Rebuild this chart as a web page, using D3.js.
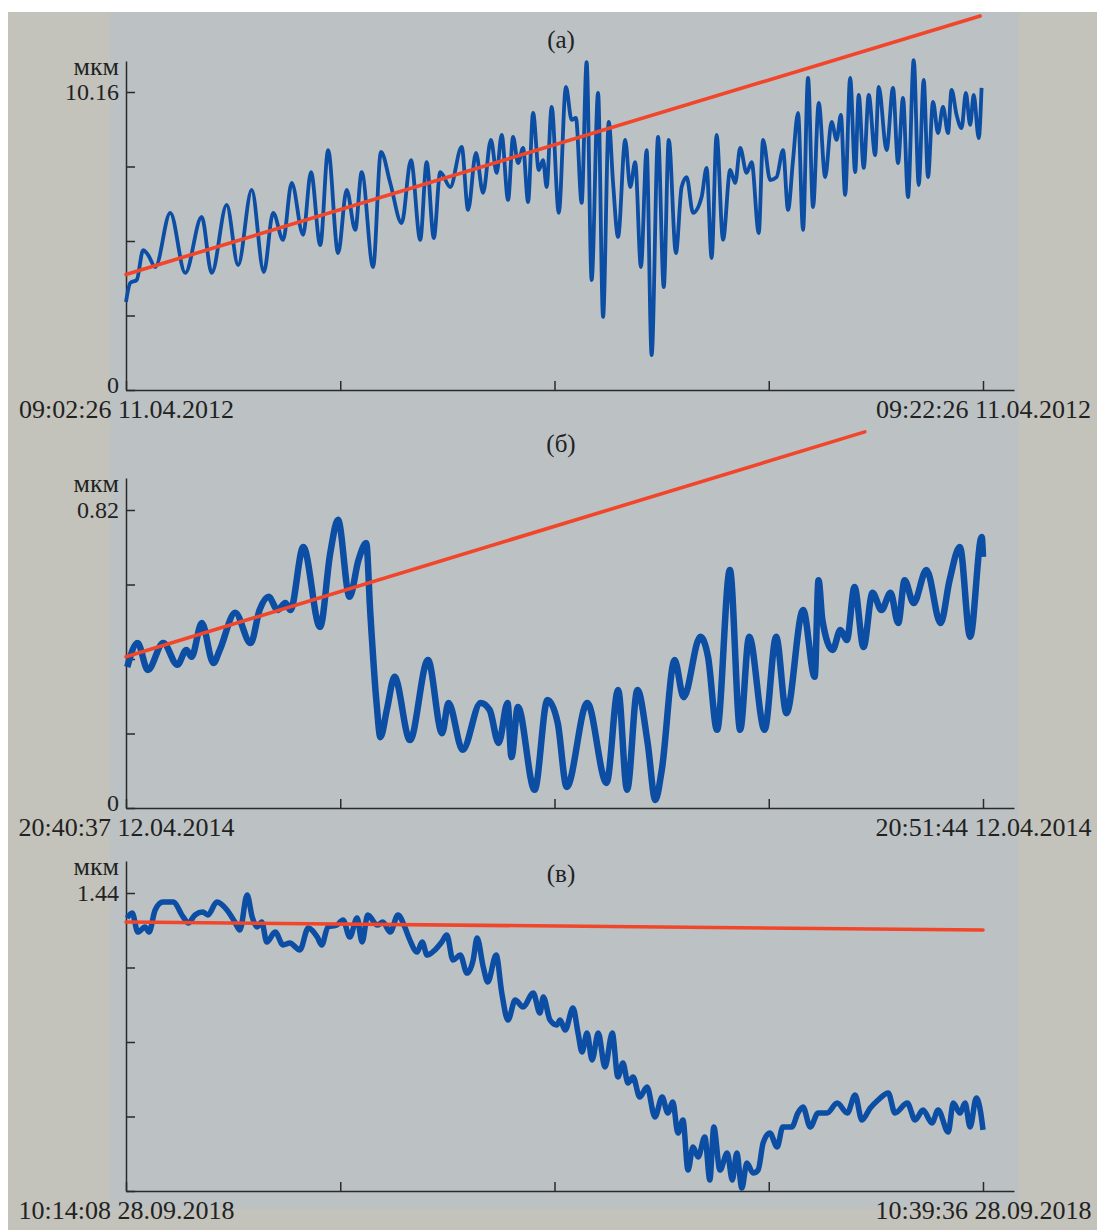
<!DOCTYPE html>
<html>
<head>
<meta charset="utf-8">
<title>Displacement records</title>
<script src="https://d3js.org/d3.v7.min.js"></script>
<style>
    body { margin: 0; background: #ffffff; }
    svg text { font-family: "Liberation Serif", "DejaVu Serif", serif; fill: #222; }
    .axis path, .axis line { stroke: #2a2a2a; stroke-width: 1.5; }
</style>
</head>
<body>
<svg id="chart" width="1097" height="1230"></svg>
<script>
// panel labels and time range captions
var titles = ["(а)", "(б)", "(в)"];
var startLabels = ["09:02:26 11.04.2012", "20:40:37 12.04.2014", "10:14:08 28.09.2018"];
var endLabels = ["09:22:26 11.04.2012", "20:51:44 12.04.2014", "10:39:36 28.09.2018"];
var durations = [1200, 667, 1528];        // seconds
var yMaxLabels = [10.16, 0.82, 1.44];     // мкм
var unit = "мкм";

// (а) seconds from start / мкм
var secA = [0, 6, 15, 24, 31, 41, 62, 83, 106, 120, 141, 157, 176, 193, 206, 220, 232, 248, 259, 272,
    283, 297, 309, 321, 330, 346, 357, 370, 386, 399, 412, 421, 431, 440, 454, 470, 479, 490, 500, 511,
    519, 526, 535, 542, 549, 556, 563, 570, 578, 584, 589, 596, 606, 616, 624, 630, 638, 645, 652, 661,
    668, 676, 682, 689, 699, 706, 713, 721, 729, 736, 745, 753, 760, 770, 778, 785, 794, 806, 813, 820,
    827, 836, 846, 853, 860, 869, 876, 886, 892, 902, 911, 920, 927, 934, 941, 948, 955, 962, 970, 979,
    988, 995, 1001, 1007, 1014, 1021, 1026, 1033, 1040, 1049, 1054, 1065, 1074, 1081, 1088, 1095, 1103, 1110, 1117, 1123,
    1130, 1137, 1144, 1151, 1156, 1163, 1170, 1176, 1182, 1187, 1194, 1198];
var valA = [3.00, 3.65, 3.75, 4.77, 4.60, 4.19, 6.04, 3.99, 5.90, 3.99, 6.31, 4.26, 6.82, 4.02, 6.04, 5.12, 7.06, 5.29, 7.43, 4.94,
    8.18, 4.67, 6.82, 5.46, 7.43, 4.19, 8.12, 7.06, 5.69, 7.84, 5.12, 7.77, 5.18, 7.43, 6.92, 8.29, 6.14, 8.08, 6.72, 8.53,
    7.40, 8.70, 6.48, 8.63, 7.74, 8.25, 6.41, 9.45, 7.50, 7.84, 6.92, 9.65, 6.04, 10.33, 9.21, 9.28, 6.38, 11.18, 3.75, 10.13,
    2.49, 9.14, 7.06, 5.22, 8.53, 6.92, 7.77, 4.19, 8.18, 1.19, 8.63, 3.51, 8.53, 4.67, 6.92, 7.26, 6.04, 6.58, 7.57, 4.50,
    8.70, 5.12, 7.50, 7.06, 8.25, 7.40, 7.77, 5.35, 8.53, 7.16, 7.26, 8.18, 6.14, 7.84, 9.45, 5.46, 10.64, 6.24, 9.79, 7.26,
    9.14, 8.53, 9.38, 6.65, 10.64, 7.43, 10.06, 7.57, 10.06, 8.01, 10.33, 8.18, 10.30, 7.74, 9.96, 6.58, 11.25, 6.99, 10.57, 7.26,
    9.82, 8.76, 9.65, 8.76, 10.23, 9.38, 8.93, 10.13, 9.04, 10.06, 8.59, 10.30];
var trendSecA = [0, 1196];
var trendValA = [3.94, 12.75];

// (б)
var secB = [1, 9, 17, 29, 40, 47, 51, 59, 68, 73, 85, 97, 104, 111, 118, 124, 128, 138, 151, 159,
    165, 174, 181, 187, 190, 195, 198, 203, 209, 221, 235, 246, 251, 262, 276, 283, 290, 297, 300, 305,
    318, 328, 336, 343, 359, 374, 383, 390, 398, 406, 412, 417, 427, 434, 447, 453, 460, 470, 478, 485,
    497, 506, 514, 527, 536, 539, 542, 550, 556, 561, 567, 574, 581, 588, 595, 601, 606, 613, 623, 634,
    641, 649, 657, 666, 667];
var valB = [0.388, 0.454, 0.380, 0.454, 0.394, 0.435, 0.416, 0.509, 0.399, 0.435, 0.537, 0.454, 0.545, 0.581, 0.545, 0.564, 0.545, 0.718, 0.498, 0.702,
    0.793, 0.581, 0.683, 0.729, 0.545, 0.289, 0.195, 0.270, 0.361, 0.187, 0.407, 0.206, 0.289, 0.160, 0.289, 0.270, 0.179, 0.289, 0.140, 0.278,
    0.050, 0.297, 0.234, 0.058, 0.289, 0.069, 0.325, 0.050, 0.325, 0.179, 0.022, 0.105, 0.407, 0.305, 0.471, 0.416, 0.215, 0.655, 0.215, 0.471,
    0.215, 0.471, 0.261, 0.545, 0.361, 0.627, 0.517, 0.435, 0.490, 0.462, 0.608, 0.443, 0.592, 0.545, 0.592, 0.509, 0.627, 0.564, 0.655, 0.509,
    0.627, 0.718, 0.471, 0.746, 0.691];
var trendSecB = [0, 575];
var trendValB = [0.416, 1.035];

// (в)
var secC = [2, 11, 21, 34, 41, 52, 66, 84, 102, 111, 123, 137, 146, 162, 180, 194, 203, 216, 225, 234,
    242, 251, 266, 280, 292, 310, 325, 341, 349, 360, 376, 387, 399, 412, 421, 431, 448, 458, 471, 485,
    497, 506, 519, 528, 537, 551, 563, 572, 583, 596, 608, 619, 626, 637, 645, 660, 670, 681, 694, 708,
    726, 738, 744, 756, 768, 774, 783, 797, 806, 813, 822, 831, 842, 854, 867, 877, 886, 895, 904, 916,
    929, 943, 956, 966, 975, 984, 993, 1002, 1011, 1020, 1032, 1041, 1048, 1059, 1072, 1081, 1089, 1098, 1107, 1118,
    1127, 1136, 1148, 1161, 1171, 1187, 1198, 1207, 1220, 1234, 1250, 1268, 1286, 1300, 1312, 1327, 1341, 1359, 1371, 1393,
    1407, 1421, 1437, 1448, 1466, 1475, 1487, 1496, 1505, 1516, 1524, 1528];
var valC = [1.319, 1.343, 1.251, 1.276, 1.251, 1.358, 1.396, 1.396, 1.324, 1.295, 1.334, 1.348, 1.334, 1.396, 1.358, 1.300, 1.261, 1.430, 1.324, 1.276,
    1.300, 1.203, 1.251, 1.189, 1.198, 1.165, 1.271, 1.227, 1.189, 1.276, 1.285, 1.310, 1.227, 1.319, 1.203, 1.334, 1.285, 1.300, 1.251, 1.334,
    1.276, 1.213, 1.155, 1.203, 1.140, 1.165, 1.203, 1.237, 1.116, 1.140, 1.053, 1.116, 1.222, 1.082, 1.010, 1.140, 0.957, 0.826, 0.923, 0.889,
    0.957, 0.860, 0.937, 0.826, 0.802, 0.826, 0.778, 0.884, 0.763, 0.672, 0.763, 0.633, 0.763, 0.599, 0.763, 0.551, 0.618, 0.522, 0.551, 0.454,
    0.503, 0.358, 0.454, 0.377, 0.430, 0.280, 0.343, 0.101, 0.213, 0.164, 0.261, 0.053, 0.309, 0.101, 0.184, 0.053, 0.184, 0.014, 0.135, 0.087,
    0.101, 0.232, 0.280, 0.213, 0.309, 0.309, 0.377, 0.406, 0.309, 0.377, 0.377, 0.425, 0.377, 0.464, 0.343, 0.401, 0.440, 0.474, 0.377, 0.425,
    0.343, 0.391, 0.329, 0.391, 0.285, 0.425, 0.377, 0.425, 0.309, 0.449, 0.377, 0.295];
var trendSecC = [0, 1528];
var trendValC = [1.300, 1.261];

var series = [
    { sec: secA, val: valA, tSec: trendSecA, tVal: trendValA, width: 3.8 },
    { sec: secB, val: valB, tSec: trendSecB, tVal: trendValB, width: 6.5 },
    { sec: secC, val: valC, tSec: trendSecC, tVal: trendValC, width: 5.5 }
];

// layout
var zeroY = [390, 808, 1191], axisTopY = [61, 478, 861], titleY = [48, 452, 882];
var x0 = 126, xEnd = 983, xAxisEnd = 1014, labelSpan = 298;

var svg = d3.select("#chart");

svg.append("rect").attr("x", 8).attr("y", 12).attr("width", 1089).attr("height", 1218)
    .attr("fill", "#c3c2bb");
svg.append("rect").attr("x", 110).attr("y", 12).attr("width", 909).attr("height", 1197)
    .attr("fill", "#bcc1c4");

series.forEach(function (s, p) {
    var T = durations[p], yMax = yMaxLabels[p];

    var x = d3.scaleLinear().domain([0, T]).range([x0, xEnd]);
    x.domain([0, x.invert(xAxisEnd)]).range([x0, xAxisEnd]);

    var y = d3.scaleLinear().domain([0, yMax]).range([zeroY[p], zeroY[p] - labelSpan]);
    y.domain([0, y.invert(axisTopY[p])]).range([zeroY[p], axisTopY[p]]);

    var g = svg.append("g");

    // x axis
    var xt = [0, T / 4, T / 2, 3 * T / 4, T];
    g.append("g").attr("class", "axis")
        .attr("transform", "translate(0," + zeroY[p] + ")")
        .call(d3.axisBottom(x).tickValues(xt).tickSizeInner(-9).tickSizeOuter(0).tickPadding(10)
            .tickFormat(function (d, i) { return i == 0 ? startLabels[p] : (i == 4 ? endLabels[p] : ""); }))
        .call(function (a) { a.selectAll("text").style("font-size", "26px").attr("fill", "#222"); });

    // y axis
    var yt = [0, yMax / 4, yMax / 2, 3 * yMax / 4, yMax];
    g.append("g").attr("class", "axis")
        .attr("transform", "translate(" + x0 + ",0)")
        .call(d3.axisLeft(y).tickValues(yt).tickSizeInner(-9).tickSizeOuter(0).tickPadding(7)
            .tickFormat(function (d, i) {
                if (i == 4) return String(yMax);
                if (i == 0 && p < 2) return "0";
                return "";
            }))
        .call(function (a) {
            a.selectAll("text").style("font-size", "24px").attr("fill", "#222");
            a.selectAll(".tick text").filter(function (d) { return d === 0; }).attr("dy", "0.1em");
        });

    g.append("text").attr("x", 119).attr("y", axisTopY[p] + 14)
        .attr("text-anchor", "end").style("font-size", "26px").text(unit);

    g.append("text").attr("x", 561).attr("y", titleY[p])
        .attr("text-anchor", "middle").style("font-size", "25px").text(titles[p]);

    var pts = s.sec.map(function (d, i) { return [d, s.val[i]]; });
    g.append("path").datum(pts)
        .attr("fill", "none").attr("stroke", "#0b4ea3").attr("stroke-width", s.width)
        .attr("stroke-linejoin", "round")
        .attr("d", d3.line().curve(d3.curveMonotoneX)
            .x(function (d) { return x(d[0]); }).y(function (d) { return y(d[1]); }));

    var tr = s.tSec.map(function (d, i) { return [d, s.tVal[i]]; });
    g.append("path").datum(tr)
        .attr("fill", "none").attr("stroke", "#f2462a").attr("stroke-width", 3.6)
        .attr("stroke-linecap", "round")
        .attr("d", d3.line().x(function (d) { return x(d[0]); }).y(function (d) { return y(d[1]); }));
});
</script>
</body>
</html>
